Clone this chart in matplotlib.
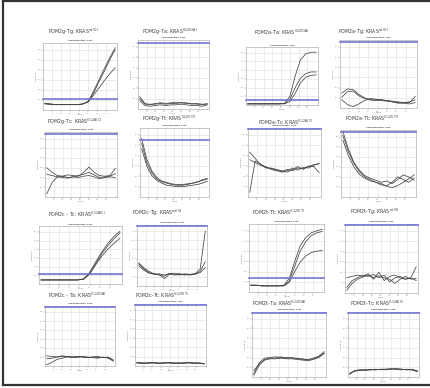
import matplotlib.pyplot as plt
from matplotlib.lines import Line2D

# cycles read every 3rd cycle
cycles = [1, 4, 7, 10, 13, 16, 19, 22, 25, 28, 31, 34, 37, 40]

titles = [
    r"POM2g-Tg: KRAS$^{\mathrm{wt(G)}}$", r"POM2g-Ta: KRAS$^{\mathrm{G12D(A)}}$",
    r"POM2a-Ta: KRAS$^{\mathrm{G12D(A)}}$", r"POM2a-Tg: KRAS$^{\mathrm{wt(G)}}$",
    r"POM2g-Tc: KRAS$^{\mathrm{G12A(C)}}$", r"POM2g-Tt: KRAS$^{\mathrm{G12V(T)}}$",
    r"POM2a-Tc: KRAS$^{\mathrm{G12A(C)}}$", r"POM2a-Tt: KRAS$^{\mathrm{G12V(T)}}$",
    r"POM2c - Tc: KRAS$^{\mathrm{G12A(C)}}$", r"POM2c-Tg: KRAS$^{\mathrm{wt(G)}}$",
    r"POM2t-Tt: KRAS$^{\mathrm{G12V(T)}}$", r"POM2t-Tg: KRAS$^{\mathrm{wt(G)}}$",
    r"POM2c - Ta: KRAS$^{\mathrm{G12D(A)}}$", r"POM2c-Tt: KRAS$^{\mathrm{G12V(T)}}$",
    r"POM2t-Ta: KRAS$^{\mathrm{G12D(A)}}$", r"POM2t-Tc: KRAS$^{\mathrm{G12A(C)}}$",
]

# delta Rn, as % of each plot's y range
gTg = [[10, 9, 8, 8, 8, 8, 8, 9, 13, 28, 45, 62, 78, 93],
       [10, 9, 8, 8, 8, 8, 8, 9, 12, 25, 42, 58, 75, 90],
       [9, 8, 8, 8, 8, 8, 8, 9, 12, 22, 33, 44, 54, 63]]
gTa = [[18, 8, 6, 8, 9, 8, 9, 10, 9, 8, 8, 7, 6, 8],
       [15, 7, 7, 7, 8, 7, 8, 8, 9, 9, 7, 8, 7, 7],
       [12, 5, 4, 5, 6, 5, 6, 6, 7, 6, 5, 5, 4, 6]]
aTa = [[2, 2, 2, 2, 2, 2, 2, 3, 15, 50, 78, 88, 91, 91],
       [2, 2, 2, 2, 2, 2, 2, 3, 10, 30, 46, 54, 57, 57],
       [2, 2, 2, 2, 2, 2, 2, 2, 6, 20, 38, 48, 51, 52]]
aTg = [[22, 28, 27, 20, 15, 12, 11, 11, 10, 9, 8, 8, 8, 17],
       [16, 24, 25, 18, 14, 12, 12, 12, 11, 10, 9, 8, 9, 12],
       [12, 5, 2, 6, 11, 14, 13, 12, 11, 9, 7, 7, 6, 8]]
gTc = [[45, 38, 33, 32, 34, 33, 32, 38, 46, 38, 33, 32, 33, 44],
       [35, 33, 31, 32, 30, 31, 33, 35, 38, 34, 30, 31, 32, 36],
       [5, 22, 31, 30, 29, 31, 30, 32, 33, 31, 28, 30, 31, 30]]
gTt = [[85, 55, 38, 28, 23, 21, 19, 18, 18, 19, 20, 21, 25, 27],
       [78, 50, 35, 26, 22, 20, 18, 17, 17, 18, 20, 22, 24, 26],
       [70, 45, 31, 24, 20, 17, 16, 15, 15, 16, 17, 18, 20, 23]]
aTc = [[65, 56, 47, 44, 40, 38, 37, 40, 38, 42, 41, 44, 47, 48],
       [54, 50, 46, 43, 41, 39, 36, 38, 42, 39, 43, 42, 46, 49],
       [7, 52, 48, 42, 42, 40, 38, 36, 40, 44, 40, 45, 44, 35]]
aTt = [[98, 72, 52, 40, 32, 28, 25, 22, 24, 20, 26, 33, 30, 25],
       [92, 68, 50, 38, 30, 26, 22, 18, 17, 22, 30, 26, 22, 28],
       [85, 62, 45, 34, 28, 24, 22, 20, 16, 14, 17, 22, 27, 33]]
cTc = [[7, 7, 7, 7, 7, 7, 7, 9, 20, 38, 55, 70, 82, 91],
       [7, 7, 7, 7, 7, 7, 7, 8, 18, 35, 52, 66, 78, 88],
       [7, 7, 7, 7, 7, 7, 7, 8, 17, 33, 48, 60, 70, 79]]
cTg = [[38, 30, 24, 20, 19, 12, 19, 18, 19, 18, 19, 20, 28, 90],
       [36, 28, 22, 19, 20, 18, 20, 21, 20, 19, 18, 19, 24, 40],
       [33, 26, 21, 20, 18, 16, 21, 19, 18, 20, 19, 20, 22, 30]]
tTt = [[10, 10, 9, 9, 9, 9, 10, 20, 45, 68, 80, 87, 90, 92],
       [10, 10, 9, 9, 9, 9, 9, 16, 38, 60, 74, 83, 87, 89],
       [10, 10, 9, 9, 9, 9, 9, 14, 30, 44, 53, 58, 60, 61]]
tTg = [[22, 24, 26, 24, 28, 20, 30, 18, 24, 26, 22, 20, 22, 38],
       [8, 18, 22, 26, 24, 27, 22, 26, 16, 22, 24, 20, 22, 18],
       [4, 14, 20, 23, 26, 22, 25, 22, 20, 14, 20, 24, 20, 21]]
cTa = [[17, 16, 15, 17, 16, 15, 16, 15, 14, 15, 16, 14, 15, 10],
       [12, 13, 15, 16, 16, 15, 14, 16, 15, 14, 13, 15, 13, 9],
       [2, 6, 11, 13, 15, 14, 16, 15, 14, 15, 14, 14, 14, 8]]
cTt = [[6, 5, 5, 6, 5, 5, 6, 5, 5, 5, 6, 5, 5, 4],
       [5, 5, 4, 5, 5, 4, 5, 5, 4, 5, 5, 5, 4, 4],
       [5, 4, 5, 5, 4, 5, 5, 4, 5, 4, 5, 4, 5, 3]]
tTa = [[5, 22, 29, 30, 31, 30, 30, 29, 29, 28, 26, 29, 32, 39],
       [3, 18, 27, 29, 29, 31, 29, 30, 28, 27, 27, 28, 31, 37],
       [10, 20, 26, 28, 28, 29, 28, 28, 27, 26, 25, 27, 30, 36]]
tTc = [[5, 10, 11, 11, 12, 11, 12, 12, 13, 12, 12, 11, 12, 9],
       [6, 9, 10, 11, 11, 12, 11, 12, 12, 12, 11, 12, 11, 8],
       [4, 10, 11, 10, 11, 11, 12, 11, 12, 13, 12, 11, 11, 10]]

curves = [gTg, gTa, aTa, aTg, gTc, gTt, aTc, aTt,
          cTc, cTg, tTt, tTg, cTa, cTt, tTa, tTc]
thresholds = [16, 96, 8, 97, 97, 83, 99, 97,
              17, 99, 20, 98, 98, 99, 99, 98]

# layout in pixels: axes (left, right, top, bottom), title (x, y)
W, H = 430, 388
boxes = [(43, 117, 43, 110), (138, 209, 40, 109), (246, 318, 47, 105), (340, 417, 40, 108),
         (45, 117, 132, 197), (140, 209, 128, 197), (248, 321, 128, 197), (341, 416, 130, 197),
         (39, 122, 226, 284), (137, 207, 225, 286), (249, 324, 224, 292), (345, 418, 224, 293),
         (45, 115, 306, 366), (135, 206, 304, 366), (252, 326, 312, 377), (348, 419, 312, 377)]
title_pos = [(48, 32), (142, 32), (254, 32), (338, 32),
             (47, 122), (142, 119), (258, 122), (345, 118),
             (48, 214), (132, 213), (252, 212), (350, 212),
             (48, 295), (135, 295), (252, 303), (350, 303)]

fig = plt.figure(figsize=(4.3, 3.88), dpi=100)
fig.patch.set_facecolor("white")

for i in range(16):
    x0, x1, y0, y1 = boxes[i]
    ax = fig.add_axes([x0 / W, 1 - y1 / H, (x1 - x0) / W, (y1 - y0) / H])
    for c in curves[i]:
        ax.plot(cycles, c, color="#444444", lw=0.55)
    ax.axhline(thresholds[i], color="#7474d6", lw=1.2, clip_on=False, zorder=5)
    ax.set_xlim(0, 41)
    ax.set_ylim(0, 100)
    ax.set_xticks([5, 10, 15, 20, 25, 30, 35])
    ax.set_yticks([15, 30, 45, 60, 75, 90])
    ax.grid(True, color="#dcdcdc", lw=0.4)
    ax.tick_params(labelsize=1.5, length=1.2, width=0.3, colors="#888888", pad=0.6)
    for s in ax.spines.values():
        s.set_color("#b0b0b0")
        s.set_linewidth(0.5)
    ax.set_xlabel("Cycle", fontsize=1.6, color="#777777", labelpad=0.3)
    ax.set_ylabel("Delta Rn", fontsize=1.6, color="#777777", labelpad=0.3)
    ax.text(0.5, 1.025, "Amplification Plot", transform=ax.transAxes, ha="center",
            va="bottom", fontsize=1.7, fontweight="bold", color="#555555")
    tx, ty = title_pos[i]
    fig.text(tx / W, 1 - ty / H, titles[i], fontsize=3.4, color="#3c3c3c",
             ha="left", va="center")

# dark frame around the figure
fig.add_artist(Line2D([3 / W, 3 / W], [1 - 1 / H, 1 - 385 / H], color="#333333", lw=1.6))
fig.add_artist(Line2D([3 / W, 1], [1 - 1 / H, 1 - 1 / H], color="#333333", lw=1.6))
fig.add_artist(Line2D([3 / W, 1], [1 - 385 / H, 1 - 385 / H], color="#333333", lw=1.6))

plt.savefig("out.png", dpi=100)
